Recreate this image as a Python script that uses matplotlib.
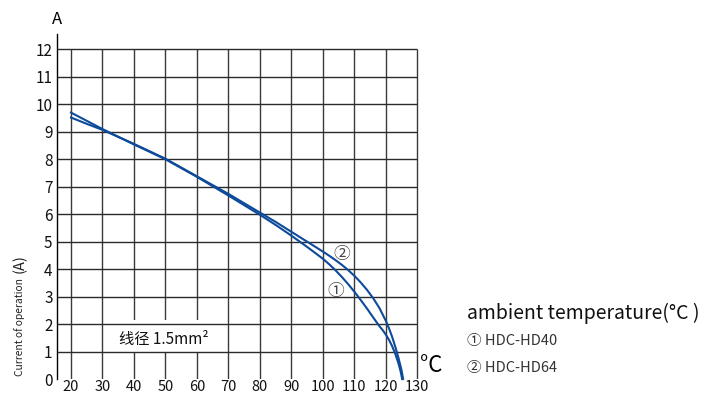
import matplotlib
matplotlib.use("Agg")
import matplotlib.pyplot as plt
from matplotlib.patches import Rectangle

plt.rcParams["font.family"] = ["Noto Sans CJK SC", "DejaVu Sans"]

# values
temp_hd40 = [20, 25, 30, 40, 50, 60, 70, 80, 85, 90, 95, 100, 102, 104, 106, 108, 110, 112, 114, 116,
             118, 119, 120, 121, 122, 123, 124, 124.7, 125.2]
amps_hd40 = [9.70, 9.40, 9.10, 8.54, 8.00, 7.36, 6.68, 5.98, 5.61, 5.22, 4.81, 4.38, 4.18, 3.96, 3.72,
             3.46, 3.18, 2.88, 2.57, 2.24, 1.92, 1.78, 1.62, 1.43, 1.20, 0.92, 0.58, 0.28, 0.0]
temp_hd64 = [20, 25, 30, 40, 50, 60, 70, 80, 85, 90, 95, 100, 102, 104, 106, 108, 110, 112, 114, 116,
             118, 120, 121, 122, 123, 124, 125, 125.5]
amps_hd64 = [9.52, 9.29, 9.07, 8.56, 8.02, 7.38, 6.74, 6.06, 5.72, 5.36, 5.00, 4.64, 4.49, 4.33, 4.16,
             3.97, 3.76, 3.52, 3.25, 2.94, 2.58, 2.12, 1.85, 1.54, 1.18, 0.78, 0.32, 0.0]

x_ticks = [20, 30, 40, 50, 60, 70, 80, 90, 100, 110, 120, 130]
y_ticks = list(range(0, 13))
legend_items = ["① HDC-HD40", "② HDC-HD64"]

W, H = 726, 396
fig = plt.figure(figsize=(W / 100, H / 100), dpi=100)

x0, x1 = 15.46, 130.5
y0, y1 = 0, 12.55
px_per_deg = 3.148
left_px, bottom_px = 56.7, 379
ax = fig.add_axes([left_px / W, (H - bottom_px) / H,
                   (x1 - x0) * px_per_deg / W, (bottom_px - 34.3) / H])
ax.set_xlim(x0, x1)
ax.set_ylim(y0, y1)

grid_c = "#2b2b2b"
ax.vlines(x_ticks, 0, 12, color="#3a3a3a", lw=1.0, zorder=1)
# white label box interrupts the vertical grid
ax.add_patch(Rectangle((33, 1.0), 34, 1.15, facecolor="white", edgecolor="none", zorder=2))
ax.hlines(y_ticks[1:], x0, 130, color=grid_c, lw=1.0, zorder=3)

for s in ["top", "right", "bottom"]:
    ax.spines[s].set_visible(False)
ax.spines["left"].set_color("black")
ax.spines["left"].set_linewidth(1.0)

ax.set_xticks(x_ticks)
ax.set_yticks(y_ticks)
ax.tick_params(axis="y", length=0, labelsize=11, pad=3, colors="#111111")
ax.tick_params(axis="x", length=0, labelsize=10.5, pad=1, colors="#111111")

blue = "#0d4a9a"
ax.plot(temp_hd40, amps_hd40, color=blue, lw=1.5, zorder=4, clip_on=False, solid_joinstyle="round")
ax.plot(temp_hd64, amps_hd64, color=blue, lw=1.5, zorder=4, clip_on=False, solid_joinstyle="round")

ax.text(106.1, 4.55, "②", fontsize=12, color="#444444", ha="center", va="center", zorder=5)
ax.text(104.2, 3.2, "①", fontsize=12, color="#444444", ha="center", va="center", zorder=5)
ax.text(49.4, 1.45, "线径 1.5mm²", fontsize=11, color="#111111", ha="center", va="center", zorder=5)

# outer labels in pixel positions
fig.text(57 / W, 1 - 19.5 / H, "A", fontsize=12, ha="center", va="center")
fig.text(431 / W, 1 - 366 / H, "°C", fontsize=16, ha="center", va="center")
fig.text(20 / W, 1 - 327 / H, "Current of operation", fontsize=7.4, rotation=90,
         ha="center", va="center", color="#222222")
fig.text(20 / W, 1 - 264 / H, "(A)", fontsize=10.5, rotation=90,
         ha="center", va="center", color="#222222")

fig.text(467 / W, 1 - 313 / H, "ambient temperature(°C )", fontsize=14,
         ha="left", va="center", color="#111111")
fig.text(467 / W, 1 - 341 / H, legend_items[0], fontsize=10.5, ha="left", va="center", color="#333333")
fig.text(467 / W, 1 - 368 / H, legend_items[1], fontsize=10.5, ha="left", va="center", color="#333333")

fig.savefig("out.png", dpi=100, facecolor="white")
